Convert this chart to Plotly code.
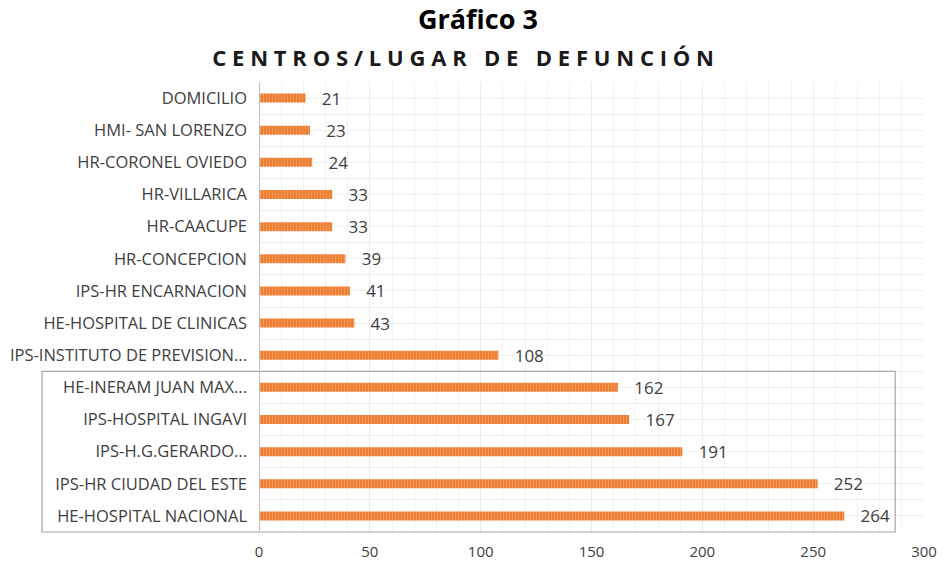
import plotly.graph_objects as go

categories = [
    "HE-HOSPITAL NACIONAL",
    "IPS-HR CIUDAD DEL ESTE",
    "IPS-H.G.GERARDO...",
    "IPS-HOSPITAL INGAVI",
    "HE-INERAM JUAN MAX...",
    "IPS-INSTITUTO DE PREVISION...",
    "HE-HOSPITAL DE CLINICAS",
    "IPS-HR ENCARNACION",
    "HR-CONCEPCION",
    "HR-CAACUPE",
    "HR-VILLARICA",
    "HR-CORONEL OVIEDO",
    "HMI- SAN LORENZO",
    "DOMICILIO",
]
values = [264, 252, 191, 167, 162, 108, 43, 41, 39, 33, 33, 24, 23, 21]
x_ticks = [0, 50, 100, 150, 200, 250, 300]

positions = list(range(len(categories)))
y_min, y_max = -0.5, len(categories) - 0.5
x_min, x_max = 0, 300

W, H = 943, 567
ML, MR, MT, MB = 259, 19, 82, 35
plot_w = W - ML - MR
plot_h = H - MT - MB

fig = go.Figure()
fig.add_trace(go.Bar(
    y=positions,
    x=values,
    orientation="h",
    width=0.28,
    marker=dict(
        color="#ED7D31",
        line=dict(width=0),
        pattern=dict(shape="|", fgcolor="#F7B98C", size=3, solidity=0.3),
    ),
    text=values,
    texttemplate="\u00a0\u00a0\u00a0%{x}",
    textposition="outside",
    constraintext="none",
    textfont=dict(family="Open Sans", size=17, color="#404040"),
    cliponaxis=False,
    hoverinfo="skip",
))

# highlight box around the bottom five rows
box_top_idx = 4.5
box_bottom_idx = -0.5
fig.add_shape(
    type="rect",
    xref="x domain", yref="y domain",
    x0=(42 - ML) / plot_w, x1=(287 - x_min) / (x_max - x_min),
    y0=(box_bottom_idx - y_min) / (y_max - y_min),
    y1=(box_top_idx - y_min) / (y_max - y_min),
    line=dict(color="#A6A6A6", width=1.2),
    fillcolor="rgba(0,0,0,0)",
    layer="above",
)

fig.add_annotation(
    text="<b>Gráfico 3</b>",
    xref="paper", yref="paper",
    x=(478 - ML) / plot_w, y=1 + (MT + 2) / plot_h,
    xanchor="center", yanchor="top",
    showarrow=False,
    font=dict(family="Open Sans", size=27, color="#000000"),
)

fig.update_layout(
    width=W, height=H,
    margin=dict(l=ML, r=MR, t=MT, b=MB),
    paper_bgcolor="white",
    plot_bgcolor="white",
    showlegend=False,
    font=dict(family="Open Sans", size=14, color="#404040"),
    title=dict(
        text='<span style="letter-spacing:5.8px"><b>CENTROS/LUGAR DE DEFUNCIÓN</b></span>',
        x=466 / W, xanchor="center",
        y=1 - 58 / H, yanchor="middle",
        font=dict(family="Open Sans", size=22, color="#1a1a1a"),
    ),
    xaxis=dict(
        range=[x_min, x_max],
        tickvals=x_ticks,
        ticktext=[str(v) for v in x_ticks],
        showgrid=True, gridcolor="#ECECEC", gridwidth=1,
        minor=dict(dtick=10, showgrid=True, gridcolor="#F2F2F2", gridwidth=1),
        zeroline=False, showline=False,
        tickfont=dict(family="Open Sans", size=15, color="#404040"),
        ticks="", ticklabelstandoff=9,
        automargin=False,
        fixedrange=True,
    ),
    yaxis=dict(
        range=[y_min, y_max],
        tickvals=positions,
        ticktext=categories,
        showgrid=True, gridcolor="#F0F0F0", gridwidth=1,
        minor=dict(tick0=0.5, dtick=1, showgrid=True, gridcolor="#ECECEC", gridwidth=1),
        zeroline=False, showline=False,
        tickfont=dict(family="Open Sans", size=16.5, color="#404040"),
        ticks="", ticklabelstandoff=11,
        automargin=False,
        fixedrange=True,
    ),
)

# vertical axis line at x = 0
fig.add_shape(
    type="line", xref="x", yref="y domain",
    x0=0, x1=0, y0=0, y1=1,
    line=dict(color="#BFBFBF", width=2),
    layer="above",
)

fig.write_html(
    "out.html",
    config={"displayModeBar": False},
    post_script="document.body.style.margin='0';",
)
